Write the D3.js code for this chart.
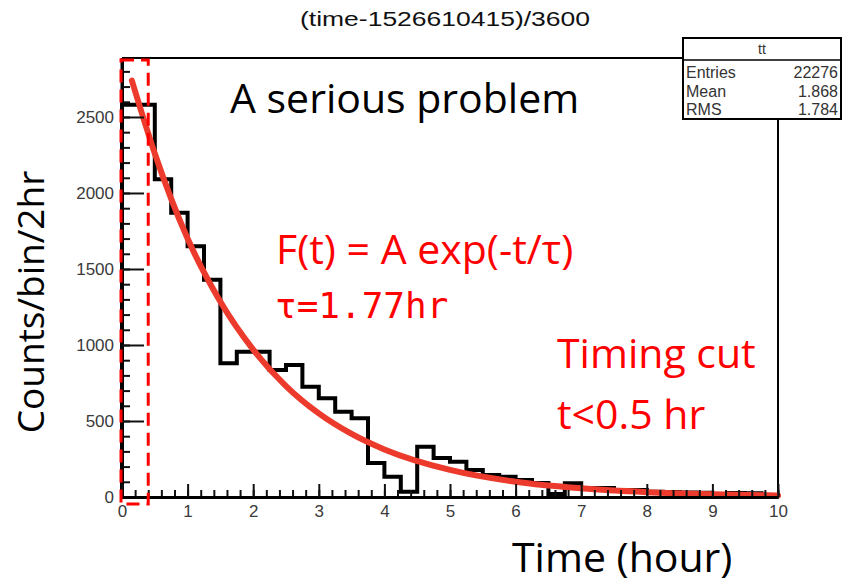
<!doctype html>
<html lang="en">
  <head>
    <meta charset="UTF-8" />
    <title>Timing histogram</title>
    <script src="https://unpkg.com/d3@7.9.0/dist/d3.min.js"></script>
    <style>
      body {
        margin: 0;
        background: #fff;
        overflow: hidden;
      }
      .root-text {
        font-family: 'Liberation Sans', Arial, sans-serif;
        fill: #333;
      }
      .axis path {
        stroke: #000;
        stroke-width: 3px;
      }
      .axis line {
        stroke: #111;
        stroke-width: 2px;
      }
      .axis text {
        font: 17px 'Liberation Sans', Arial, sans-serif;
        fill: #3a3a3a;
      }
      .slide {
        font-family: 'Open Sans', Lato, sans-serif;
      }
      .red {
        fill: #ff0000;
      }
    </style>
  </head>
  <body>
    <svg width="845" height="586"></svg>

    <script>
      // histogram: 40 bins of 0.25 hr from 0 to 10
      const binWidth = 0.25;
      const binCounts = [
        2580, 2580, 2090, 1870, 1650, 1430, 880, 955, 955, 836,
        869, 726, 649, 561, 518, 224, 134, 35, 331, 256,
        232, 178, 145, 134, 112, 92, 20, 90, 60, 60,
        46, 46, 35, 33, 30, 28, 15, 26, 24, 13,
      ];

      // fitted curve
      const fitTimes = [0.15, 0.5, 1, 1.5, 2, 2.5, 3, 3.5, 4, 5, 6, 7, 8, 9, 10];
      const fitCounts = [2740, 2260, 1700, 1285, 970, 730, 550, 415, 313, 178, 100, 57, 32, 18, 10];

      const yMajorTicks = [0, 500, 1000, 1500, 2000, 2500];
      const xMajorTicks = [0, 1, 2, 3, 4, 5, 6, 7, 8, 9, 10];

      const statLabels = ['Entries', 'Mean', 'RMS'];
      const statValues = ['22276', '1.868', '1.784'];

      const cutTime = 0.4;

      const svg = d3.select('svg');

      const frame = { left: 122, right: 778, top: 58, bottom: 497 };

      const x = d3.scaleLinear().domain([0, 10]).range([frame.left, frame.right]);
      const y = d3.scaleLinear().domain([0, 2888]).range([frame.bottom, frame.top]);

      // title
      svg.append('text')
        .attr('class', 'root-text')
        .attr('x', 445)
        .attr('y', 26)
        .attr('text-anchor', 'middle')
        .attr('font-size', 20)
        .style('fill', '#111')
        .attr('textLength', 290)
        .attr('lengthAdjust', 'spacingAndGlyphs')
        .text('(time-1526610415)/3600');

      // frame top / right
      svg.append('path')
        .attr('d', `M${frame.left},${frame.top}H${frame.right}V${frame.bottom}`)
        .attr('fill', 'none')
        .attr('stroke', '#000')
        .attr('stroke-width', 2);

      // histogram
      const histPts = [[0, 0]];
      binCounts.forEach((c, i) => histPts.push([i * binWidth, c]));
      histPts.push([10, binCounts[binCounts.length - 1]]);
      histPts.push([10, 0]);

      svg.append('path')
        .datum(histPts)
        .attr('fill', 'none')
        .attr('stroke', '#000')
        .attr('stroke-width', 4)
        .attr('d', d3.line()
          .curve(d3.curveStepAfter)
          .x((d) => x(d[0]))
          .y((d) => y(d[1])));

      // fit curve
      svg.append('path')
        .datum(fitTimes.map((t, i) => [t, fitCounts[i]]))
        .attr('fill', 'none')
        .attr('stroke', '#ec3b2c')
        .attr('stroke-width', 6)
        .attr('stroke-linecap', 'round')
        .attr('d', d3.line()
          .curve(d3.curveMonotoneX)
          .x((d) => x(d[0]))
          .y((d) => y(d[1])));

      // y axis: majors + minors, ticks pointing inward
      svg.append('g')
        .attr('class', 'axis')
        .attr('transform', `translate(${frame.left},0)`)
        .call(d3.axisLeft(y).tickValues(d3.range(0, 2900, 100))
          .tickSizeInner(-8).tickSizeOuter(0).tickFormat(''))
        .call((g) => g.selectAll('text').remove());

      svg.append('g')
        .attr('class', 'axis')
        .attr('transform', `translate(${frame.left},0)`)
        .call(d3.axisLeft(y).tickValues(yMajorTicks)
          .tickSizeInner(-22).tickSizeOuter(0).tickPadding(8).tickFormat(d3.format('d')))
        .call((g) => g.select('.domain').attr('d', `M0,${frame.top}V${frame.bottom}`));

      // x axis
      svg.append('g')
        .attr('class', 'axis')
        .attr('transform', `translate(0,${frame.bottom})`)
        .call(d3.axisBottom(x).tickValues(d3.range(0, 10.01, 0.2))
          .tickSizeInner(-7).tickSizeOuter(0).tickFormat(''))
        .call((g) => g.selectAll('text').remove());

      svg.append('g')
        .attr('class', 'axis')
        .attr('transform', `translate(0,${frame.bottom})`)
        .call(d3.axisBottom(x).tickValues(xMajorTicks)
          .tickSizeInner(-13).tickSizeOuter(0).tickPadding(8).tickFormat(d3.format('d')));

      // stats box
      const stats = svg.append('g').attr('transform', 'translate(683,38)');
      stats.append('rect')
        .attr('width', 158)
        .attr('height', 81)
        .attr('fill', '#fff')
        .attr('stroke', '#000')
        .attr('stroke-width', 2);
      stats.append('line')
        .attr('x1', 0).attr('x2', 158)
        .attr('y1', 22).attr('y2', 22)
        .attr('stroke', '#000')
        .attr('stroke-width', 1.5);
      stats.append('text')
        .attr('class', 'root-text')
        .attr('x', 79).attr('y', 16)
        .attr('text-anchor', 'middle')
        .attr('font-size', 14)
        .text('tt');
      statLabels.forEach((lab, i) => {
        stats.append('text')
          .attr('class', 'root-text')
          .attr('x', 3).attr('y', 40 + i * 18.5)
          .attr('font-size', 16)
          .text(lab);
        stats.append('text')
          .attr('class', 'root-text')
          .attr('x', 155).attr('y', 40 + i * 18.5)
          .attr('text-anchor', 'end')
          .attr('font-size', 16)
          .text(statValues[i]);
      });

      // dashed cut window
      svg.append('rect')
        .attr('x', x(0) - 1)
        .attr('y', frame.top + 2)
        .attr('width', x(cutTime) - x(0) + 1)
        .attr('height', frame.bottom - frame.top + 5)
        .attr('fill', 'none')
        .attr('stroke', '#ff0000')
        .attr('stroke-width', 3)
        .attr('stroke-dasharray', '13,7');

      // slide annotations
      svg.append('text')
        .attr('class', 'slide')
        .attr('x', 230).attr('y', 113)
        .attr('font-size', 41)
        .attr('fill', '#000')
        .text('A serious problem');

      svg.append('text')
        .attr('class', 'slide red')
        .attr('x', 276).attr('y', 264)
        .attr('font-size', 41)
        .text('F(t) = A exp(-t/τ)');

      svg.append('text')
        .attr('class', 'red')
        .attr('x', 275).attr('y', 318)
        .attr('font-family', "'DejaVu Sans Mono', monospace")
        .attr('font-size', 36)
        .text('τ=1.77hr');

      svg.append('text')
        .attr('class', 'slide red')
        .attr('x', 557).attr('y', 368)
        .attr('font-size', 41)
        .text('Timing cut');

      svg.append('text')
        .attr('class', 'slide red')
        .attr('x', 557).attr('y', 429)
        .attr('font-size', 41)
        .text('t<0.5 hr');

      svg.append('text')
        .attr('class', 'slide')
        .attr('x', 512).attr('y', 572)
        .attr('font-size', 41)
        .attr('fill', '#000')
        .text('Time (hour)');

      svg.append('text')
        .attr('class', 'slide')
        .attr('transform', 'translate(44,302) rotate(-90)')
        .attr('text-anchor', 'middle')
        .attr('font-size', 37)
        .attr('fill', '#000')
        .text('Counts/bin/2hr');
    </script>
  </body>
</html>
